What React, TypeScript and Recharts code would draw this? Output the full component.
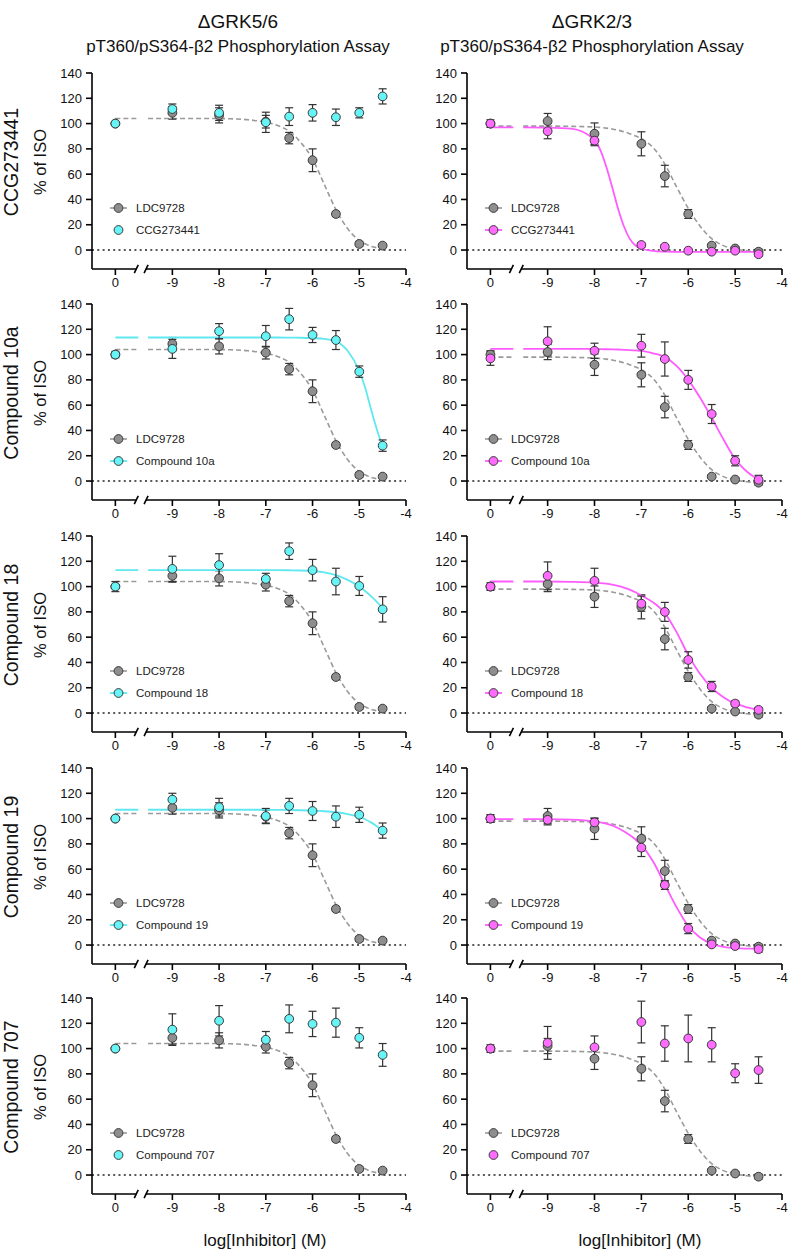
import React from 'react';
import { ComposedChart, Line, Scatter, XAxis, YAxis, ErrorBar, ReferenceLine } from 'recharts';

const FONT = '"Liberation Sans", Arial, Helvetica, sans-serif';

// log[Inhibitor] (M) doses; the vehicle "0" column sits left of the axis break
const DOSES = [0, -9, -8, -7, -6.5, -6, -5.5, -5, -4.5];
const ZERO_POS = -10.22;
const BREAK_POS = -9.62;
const X_MIN = -10.72;
const X_MAX = -4;
const Y_MIN = -15;
const Y_MAX = 140;
const X_TICKS = [ZERO_POS, -9, -8, -7, -6, -5, -4];
const Y_TICKS = [0, 20, 40, 60, 80, 100, 120, 140];

const columnTitles = ['ΔGRK5/6', 'ΔGRK2/3'];
const assayTitle = 'pT360/pS364-β2 Phosphorylation Assay';
const compounds = ['CCG273441', 'Compound 10a', 'Compound 18', 'Compound 19', 'Compound 707'];

// LDC9728 reference, same in every row of a column
const ldc56 = [100, 108.5, 106.5, 101.5, 88.5, 71, 28.5, 4.8, 3.5];
const ldc56Err = [0, 5, 6, 5, 4.5, 9, 2, 2, 1.5];
const ldc23 = [100, 102, 92, 84, 58.5, 28.5, 3.5, 1.2, -1.3];
const ldc23Err = [3, 6, 8.5, 9.5, 8.5, 3.5, 1.5, 1.5, 2];

// ΔGRK5/6 column
const ccg56 = [100, 111.5, 108.5, 101, 105.5, 108.5, 105, 108.5, 121.5];
const ccg56Err = [0, 4, 6, 8, 7, 6.5, 6.5, 4, 6];
const c10a56 = [100, 104.5, 118.5, 114.5, 128, 115.5, 111.5, 86.5, 28];
const c10a56Err = [2.5, 7.5, 6, 8.5, 8.5, 6, 7.5, 4.5, 4.5];
const c18_56 = [100, 114, 117, 106, 128, 113, 104, 100.5, 82];
const c18_56Err = [4, 10, 9, 4.5, 6.5, 8.5, 10.5, 7.5, 10];
const c19_56 = [100, 115, 109, 102, 110, 106, 101.5, 103, 90.5];
const c19_56Err = [0, 5, 7, 6, 6, 7.5, 8.5, 6, 6];
const c707_56 = [100, 115, 122, 107, 123.5, 119.5, 120.5, 108.5, 95];
const c707_56Err = [0, 12.5, 12, 6.5, 11, 10, 11.5, 8, 9];

// ΔGRK2/3 column
const ccg23 = [100, 94, 86.5, 4, 2.6, -0.5, -1.3, -0.5, -3.3];
const ccg23Err = [0, 6, 4, 1.5, 1.5, 1, 1, 1, 1.5];
const c10a23 = [97, 110.5, 103, 107, 96.5, 80, 53, 16, 1];
const c10a23Err = [5.5, 11.5, 6, 9, 13.5, 7.5, 7.5, 4, 3.5];
const c18_23 = [100, 108.5, 104.5, 86.5, 80, 42, 21, 7.5, 2.5];
const c18_23Err = [0, 11, 10, 6, 7.5, 6.5, 4, 2, 2];
const c19_23 = [100, 99, 97, 77, 47.5, 13, 0.5, -0.8, -3.3];
const c19_23Err = [3, 4, 3, 7, 3.5, 4, 1.5, 1.5, 2.5];
const c707_23 = [100, 104.5, 101, 121, 104, 108, 103, 80.5, 83];
const c707_23Err = [0, 13, 9, 16.5, 14, 18.5, 13.5, 7.5, 10.5];

// fitted curves (null = gap at the axis break)
const FIT_X = [ZERO_POS, -9.73, BREAK_POS, -9.52, -9, -8.5, -8, -7.875, -7.75, -7.625, -7.5, -7.375, -7.25, -7.125, -7, -6.75, -6.5, -6.25, -6, -5.75, -5.5, -5.25, -5, -4.875, -4.75, -4.625, -4.5];
const ldc56Fit = [104, 104, null, 104, 104, 104, 104, 103.9, 103.8, 103.6, 103.4, 103, 102.5, 101.8, 101, 98.5, 94, 85, 72, 52, 32, 17, 7.5, 5, 3, 1.8, 1];
const ldc23Fit = [98, 98, null, 98, 98, 97.8, 97.3, 96.9, 96.4, 95.7, 94.8, 93.6, 92, 90.2, 88, 81, 68, 50, 33, 19, 9, 3.5, 0.8, 0, -0.6, -1, -1.3];
const c10a56Fit = [113.5, 113.5, null, 113.5, 113.5, 113.5, 113.5, 113.5, 113.5, 113.5, 113.5, 113.5, 113.5, 113.5, 113.5, 113.5, 113.4, 113.3, 113, 112.4, 110.5, 103, 87, 74, 57, 41, 27];
const c18_56Fit = [113, 113, null, 113, 113, 113, 113, 113, 113, 113, 113, 113, 113, 113, 113, 113, 112.9, 112.7, 112.2, 111.2, 109, 105.3, 100, 96.5, 92.5, 88, 83];
const c19_56Fit = [107, 107, null, 107, 107, 107, 107, 107, 107, 107, 107, 107, 107, 107, 107, 106.9, 106.8, 106.6, 106.3, 105.8, 105, 103.6, 101.3, 99.5, 97, 94, 90.5];
const ccg23Fit = [97, 97, null, 97, 96.8, 96, 87, 79, 66, 50, 33, 19, 9, 3.5, 1, -0.6, -1.2, -1.4, -1.5, -1.5, -1.5, -1.5, -1.5, -1.5, -1.5, -1.5, -1.5];
const c10a23Fit = [104.5, 104.5, null, 104.5, 104.5, 104.5, 104.4, 104.3, 104.2, 104.1, 104, 103.8, 103.6, 103.3, 103, 101, 98, 91, 80, 66, 50, 33, 17.5, 12, 7.5, 4, 1.5];
const c18_23Fit = [104, 104, null, 104, 104, 103.8, 103.2, 102.8, 102.3, 101.6, 100.5, 99.2, 97.6, 95.5, 93, 87.5, 79, 64, 46, 31, 20, 12.5, 7.5, 6, 4.5, 3.5, 2.8];
const c19_23Fit = [99.5, 99.5, null, 99.5, 99.5, 99.2, 97.8, 97, 96, 94.6, 92.6, 90, 87, 83.5, 79, 66, 48, 30, 15, 6, 1, -1.5, -2.5, -2.7, -2.8, -2.9, -3];

const GRAY = '#8e8e8e';
const GRAY_LINE = '#9a9a9a';
const CYAN = '#66f4f6';
const CYAN_LINE = '#5fe8ef';
const MAGENTA = '#ff6cff';
const MAGENTA_LINE = '#ff5cff';

const PLOT_LEFT = [92, 467];
const PLOT_RIGHT = [406, 782];
const ROW_TOP = [73, 304, 536, 768, 998];
const PLOT_H = 196;
const Y_AXIS_W = 62;

const toPoints = (ys: number[], errs: number[]) =>
  DOSES.map((d, i) => ({ x: d === 0 ? ZERO_POS : d, y: ys[i], err: errs[i] }));
const toCurve = (ys: (number | null)[]) => FIT_X.map((x, i) => ({ x, y: ys[i] }));

const fmtX = (v: number) => (Math.abs(v - ZERO_POS) < 1e-6 ? '0' : String(v));

const dot = (fill: string) => (p: any) => (
  <circle cx={p.cx} cy={p.cy} r={4.4} fill={fill} stroke="#3a3a3a" strokeWidth={1} />
);

type PanelDef = {
  col: number;
  row: number;
  name: string;
  ys: number[];
  errs: number[];
  fit: (number | null)[] | null;
};

const panels: PanelDef[] = [
  { col: 0, row: 0, name: compounds[0], ys: ccg56, errs: ccg56Err, fit: null },
  { col: 0, row: 1, name: compounds[1], ys: c10a56, errs: c10a56Err, fit: c10a56Fit },
  { col: 0, row: 2, name: compounds[2], ys: c18_56, errs: c18_56Err, fit: c18_56Fit },
  { col: 0, row: 3, name: compounds[3], ys: c19_56, errs: c19_56Err, fit: c19_56Fit },
  { col: 0, row: 4, name: compounds[4], ys: c707_56, errs: c707_56Err, fit: null },
  { col: 1, row: 0, name: compounds[0], ys: ccg23, errs: ccg23Err, fit: ccg23Fit },
  { col: 1, row: 1, name: compounds[1], ys: c10a23, errs: c10a23Err, fit: c10a23Fit },
  { col: 1, row: 2, name: compounds[2], ys: c18_23, errs: c18_23Err, fit: c18_23Fit },
  { col: 1, row: 3, name: compounds[3], ys: c19_23, errs: c19_23Err, fit: c19_23Fit },
  { col: 1, row: 4, name: compounds[4], ys: c707_23, errs: c707_23Err, fit: null },
];

const tickStyle = { fontSize: 13, fill: '#111', fontFamily: FONT };
const axisStroke = { stroke: '#000', strokeWidth: 1.6 };

function Panel({ p }: { p: PanelDef }) {
  const left = PLOT_LEFT[p.col];
  const top = ROW_TOP[p.row];
  const chartLeft = left - Y_AXIS_W;
  const width = PLOT_RIGHT[p.col] - chartLeft + 8;
  const ldc = p.col === 0 ? ldc56 : ldc23;
  const ldcErr = p.col === 0 ? ldc56Err : ldc23Err;
  const ldcFit = p.col === 0 ? ldc56Fit : ldc23Fit;
  const fill = p.col === 0 ? CYAN : MAGENTA;
  const lineColor = p.col === 0 ? CYAN_LINE : MAGENTA_LINE;

  return (
    <div style={{ position: 'absolute', left: chartLeft, top: top - 8 }}>
      <ComposedChart width={width} height={8 + PLOT_H + 30} margin={{ top: 8, right: 8, bottom: 0, left: 0 }}>
        <XAxis
          type="number"
          dataKey="x"
          domain={[X_MIN, X_MAX]}
          ticks={X_TICKS}
          allowDataOverflow
          axisLine={false}
          tickLine={axisStroke}
          tickSize={6}
          tickMargin={3}
          height={30}
          tick={tickStyle}
          tickFormatter={fmtX}
        />
        <YAxis
          type="number"
          domain={[Y_MIN, Y_MAX]}
          ticks={Y_TICKS}
          allowDataOverflow
          width={Y_AXIS_W}
          axisLine={axisStroke}
          tickLine={axisStroke}
          tickSize={6}
          tickMargin={4}
          tick={tickStyle}
        />
        <ReferenceLine y={0} stroke="#222" strokeWidth={1.4} strokeDasharray="2 3.3" />
        {/* broken x axis */}
        <ReferenceLine segment={[{ x: X_MIN, y: Y_MIN }, { x: -9.77, y: Y_MIN }]} stroke="#000" strokeWidth={1.6} ifOverflow="visible" />
        <ReferenceLine segment={[{ x: -9.57, y: Y_MIN }, { x: X_MAX, y: Y_MIN }]} stroke="#000" strokeWidth={1.6} ifOverflow="visible" />
        <ReferenceLine segment={[{ x: -9.815, y: -18.2 }, { x: -9.73, y: -11.8 }]} stroke="#000" strokeWidth={1.6} ifOverflow="visible" />
        <ReferenceLine segment={[{ x: -9.605, y: -18.2 }, { x: -9.52, y: -11.8 }]} stroke="#000" strokeWidth={1.6} ifOverflow="visible" />

        <Line
          data={toCurve(ldcFit)}
          dataKey="y"
          type="monotone"
          dot={false}
          activeDot={false}
          stroke={GRAY_LINE}
          strokeWidth={1.6}
          strokeDasharray="5 3"
          isAnimationActive={false}
        />
        <Scatter data={toPoints(ldc, ldcErr)} dataKey="y" shape={dot(GRAY)} isAnimationActive={false}>
          <ErrorBar dataKey="err" direction="y" width={4} stroke="#333" strokeWidth={1.2} />
        </Scatter>
        {p.fit && (
          <Line
            data={toCurve(p.fit)}
            dataKey="y"
            type="monotone"
            dot={false}
            activeDot={false}
            stroke={lineColor}
            strokeWidth={1.8}
            isAnimationActive={false}
          />
        )}
        <Scatter data={toPoints(p.ys, p.errs)} dataKey="y" shape={dot(fill)} isAnimationActive={false}>
          <ErrorBar dataKey="err" direction="y" width={4} stroke="#333" strokeWidth={1.2} />
        </Scatter>
      </ComposedChart>
    </div>
  );
}

function LegendRow({ x, y, label, fill, line, dashed }: { x: number; y: number; label: string; fill: string; line: string | null; dashed: boolean }) {
  return (
    <div style={{ position: 'absolute', left: x, top: y - 7, height: 14, display: 'flex', alignItems: 'center' }}>
      <svg width={18} height={14} style={{ display: 'block' }}>
        {line && dashed && (
          <>
            <line x1={0} x2={4} y1={7} y2={7} stroke={line} strokeWidth={1.6} />
            <line x1={13} x2={17} y1={7} y2={7} stroke={line} strokeWidth={1.6} />
          </>
        )}
        {line && !dashed && <line x1={0} x2={17} y1={7} y2={7} stroke={line} strokeWidth={1.8} />}
        <circle cx={8.5} cy={7} r={4.4} fill={fill} stroke="#3a3a3a" strokeWidth={1} />
      </svg>
      <span style={{ marginLeft: 8, fontSize: 11.5, color: '#222', fontFamily: FONT, whiteSpace: 'nowrap' }}>{label}</span>
    </div>
  );
}

export default function App() {
  const titleCx = [238, 592];
  const axisTitleCx = [265, 640];
  return (
    <div style={{ position: 'absolute', left: 0, top: 0, width: 788, height: 1249, overflow: 'hidden', background: '#fff', fontFamily: FONT }}>
      <svg width={788} height={1249} style={{ position: 'absolute', left: 0, top: 0 }}>
        {columnTitles.map((t, c) => (
          <g key={t} fontFamily={FONT} fill="#111" textAnchor="middle">
            <text x={titleCx[c]} y={28} fontSize={19}>{t}</text>
            <text x={titleCx[c]} y={52} fontSize={17}>{assayTitle}</text>
            <text x={axisTitleCx[c]} y={1246} fontSize={17}>log[Inhibitor] (M)</text>
          </g>
        ))}
        {compounds.map((name, r) => (
          <g key={name} fontFamily={FONT} fill="#111" textAnchor="middle">
            <text transform={`translate(18,${ROW_TOP[r] + 89}) rotate(-90)`} fontSize={19.5}>{name}</text>
            <text transform={`translate(46,${ROW_TOP[r] + 89}) rotate(-90)`} fontSize={16.5}>% of ISO</text>
          </g>
        ))}
      </svg>
      {panels.map((p) => (
        <Panel key={`${p.col}-${p.row}`} p={p} />
      ))}
      {panels.map((p) => {
        const x = PLOT_LEFT[p.col] + 18;
        const y = ROW_TOP[p.row];
        const fill = p.col === 0 ? CYAN : MAGENTA;
        const line = p.col === 0 ? CYAN_LINE : MAGENTA_LINE;
        return (
          <React.Fragment key={`lg-${p.col}-${p.row}`}>
            <LegendRow x={x} y={y + 135} label="LDC9728" fill={GRAY} line={GRAY_LINE} dashed />
            <LegendRow x={x} y={y + 157} label={p.name} fill={fill} line={p.fit ? line : null} dashed={false} />
          </React.Fragment>
        );
      })}
    </div>
  );
}
